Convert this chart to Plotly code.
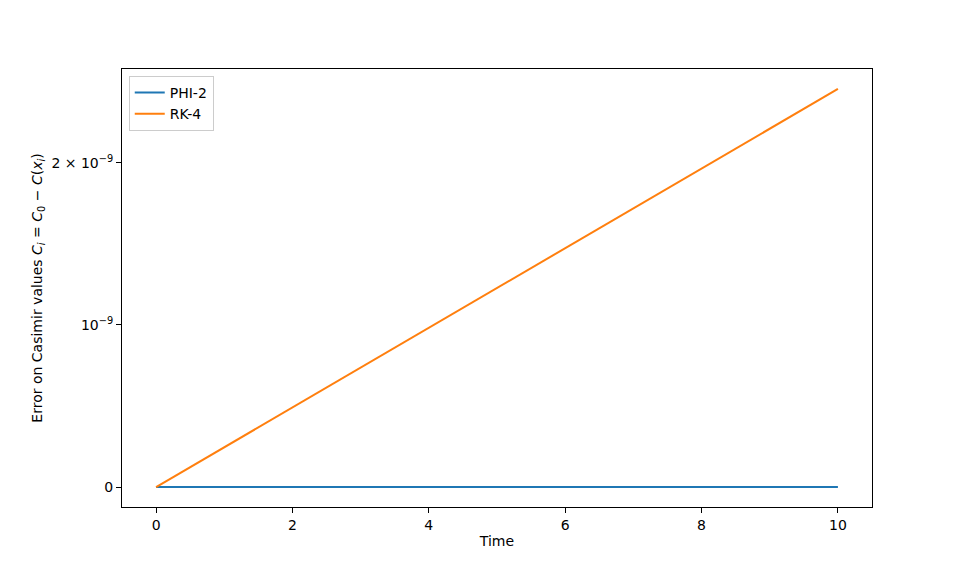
import plotly.graph_objects as go

time = [0, 1, 2, 3, 4, 5, 6, 7, 8, 9, 10]
phi2_err = [0, 0, 0, 0, 0, 0, 0, 0, 0, 0, 0]
rk4_err = [0, 0.2455e-9, 0.491e-9, 0.7365e-9, 0.982e-9, 1.2275e-9, 1.473e-9, 1.7185e-9, 1.964e-9, 2.2095e-9, 2.455e-9]

xticks = [0, 2, 4, 6, 8, 10]
yticks = [0, 1e-9, 2e-9]
yticklabels = ["0", "10<sup>\u22129</sup>", "2 \u00d7 10<sup>\u22129</sup>"]

fig = go.Figure()
fig.add_trace(go.Scatter(x=time, y=phi2_err, mode="lines", name="PHI-2",
                         line=dict(color="#1f77b4", width=2)))
fig.add_trace(go.Scatter(x=time, y=rk4_err, mode="lines", name="RK-4",
                         line=dict(color="#ff7f0e", width=2)))

axis_common = dict(showline=True, linecolor="black", linewidth=1, mirror=True,
                   ticks="outside", ticklen=5, tickwidth=1, tickcolor="black",
                   showgrid=False, zeroline=False,
                   tickfont=dict(family="DejaVu Sans", size=14, color="black"))

fig.update_layout(
    width=969, height=568,
    margin=dict(l=114, r=105, t=61, b=69),
    paper_bgcolor="white", plot_bgcolor="white",
    font=dict(family="DejaVu Sans", size=14, color="black"),
    xaxis=dict(range=[-0.5, 10.5], tickvals=xticks,
               title=dict(text="Time", standoff=4, font=dict(size=14)), **axis_common),
    yaxis=dict(range=[-0.1228e-9, 2.578e-9], tickvals=yticks, ticktext=yticklabels,
               title=dict(text="Error on Casimir values <i>C<sub>i</sub></i> = <i>C</i><sub>0</sub> \u2212 <i>C</i>(<i>x<sub>i</sub></i>)",
                          standoff=5, font=dict(size=14)), **axis_common),
    legend=dict(x=0.009, y=0.984, xanchor="left", yanchor="top",
                bordercolor="#cccccc", borderwidth=1, bgcolor="rgba(255,255,255,0.8)",
                font=dict(size=14)),
    showlegend=True,
)

fig.write_html("out.html")
